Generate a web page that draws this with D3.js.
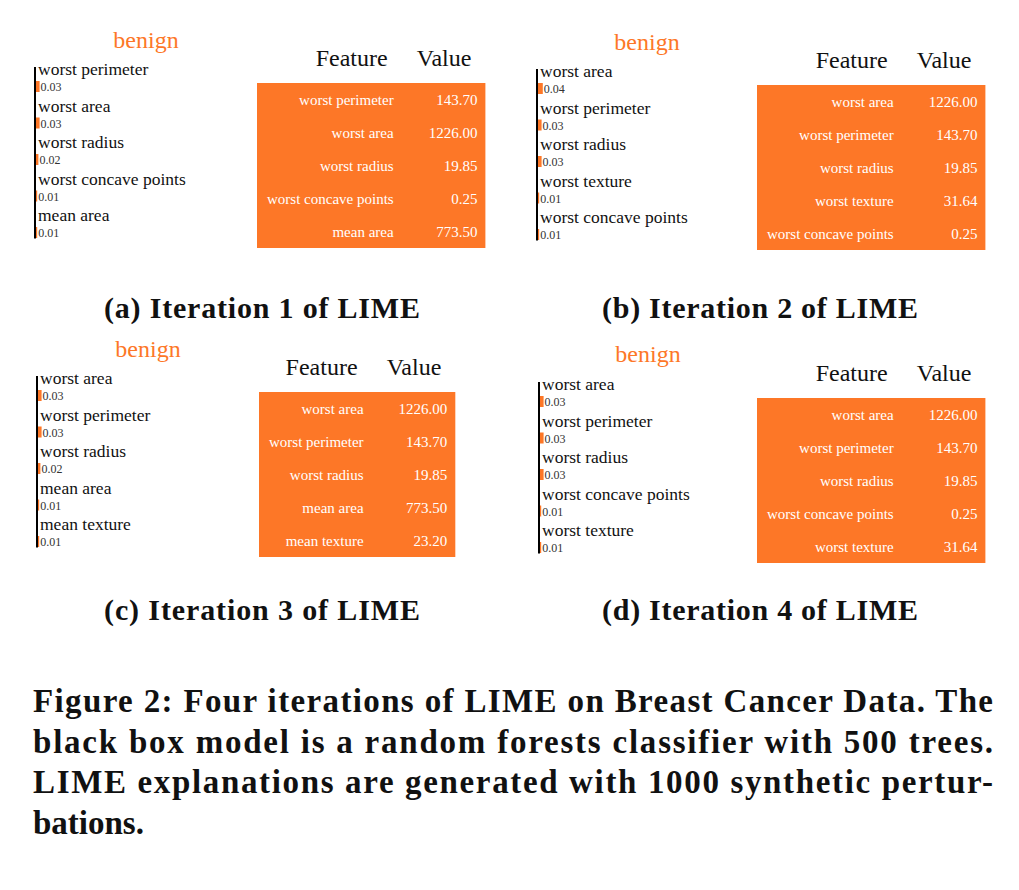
<!DOCTYPE html>
<meta charset="utf-8">
<style>
body { margin: 0; background: #fff; }
text { font-family: "Liberation Serif", "Times New Roman", serif; }
.feat { font-size: 17.5px; fill: #111; }
.wval { font-size: 12px; fill: #333; }
.head { font-size: 24px; fill: #111; text-anchor: end; }
.cell { font-size: 15px; fill: #fff; text-anchor: end; }
.cls { font-size: 24px; text-anchor: middle; }
.sub { font-size: 30px; font-weight: bold; text-anchor: middle; fill: #111; }
.cap { font-size: 33px; font-weight: bold; fill: #111; }
</style>
<svg width="1019" height="890"></svg>
<script src="https://d3js.org/d3.v7.min.js"></script>
<script>

var orange = "#fd7727";

var subCaptions = ["(a) Iteration 1 of LIME", "(b) Iteration 2 of LIME",
                   "(c) Iteration 3 of LIME", "(d) Iteration 4 of LIME"];

var features1 = ["worst perimeter", "worst area", "worst radius", "worst concave points", "mean area"];
var weights1  = [0.03, 0.03, 0.02, 0.01, 0.01];
var values1   = [143.70, 1226.00, 19.85, 0.25, 773.50];

var features2 = ["worst area", "worst perimeter", "worst radius", "worst texture", "worst concave points"];
var weights2  = [0.04, 0.03, 0.03, 0.01, 0.01];
var values2   = [1226.00, 143.70, 19.85, 31.64, 0.25];

var features3 = ["worst area", "worst perimeter", "worst radius", "mean area", "mean texture"];
var weights3  = [0.03, 0.03, 0.02, 0.01, 0.01];
var values3   = [1226.00, 143.70, 19.85, 773.50, 23.20];

var features4 = ["worst area", "worst perimeter", "worst radius", "worst concave points", "worst texture"];
var weights4  = [0.03, 0.03, 0.03, 0.01, 0.01];
var values4   = [1226.00, 143.70, 19.85, 0.25, 31.64];

var className = "benign";
var tableHeaders = ["Feature", "Value"];

var captionLines = [
  "Figure 2: Four iterations of LIME on Breast Cancer Data. The",
  "black box model is a random forests classifier with 500 trees.",
  "LIME explanations are generated with 1000 synthetic pertur-",
  "bations."
];

var svg = d3.select("svg");

// layout of each sub-figure
var panels = [
  {f: features1, w: weights1, v: values1, ax: 35,  y0: 67,  tx: 146, ty: 48,  hy: 66,  L: 257, T: 83,  cx: 262, cy: 318},
  {f: features2, w: weights2, v: values2, ax: 537, y0: 69,  tx: 647, ty: 50,  hy: 68,  L: 757, T: 85,  cx: 760, cy: 318},
  {f: features3, w: weights3, v: values3, ax: 37,  y0: 376, tx: 148, ty: 357, hy: 375, L: 259, T: 392, cx: 262, cy: 620},
  {f: features4, w: weights4, v: values4, ax: 539, y0: 382, tx: 648, ty: 362, hy: 381, L: 757, T: 398, cx: 760, cy: 620}
];

var x = d3.scaleLinear().domain([0, 0.04]).range([0, 4.8]);

function textWidth(cls, s) {
  var t = svg.append("text").attr("class", cls).text(s);
  var w = t.node().getComputedTextLength();
  t.remove();
  return w;
}

panels.forEach(function(p, i) {
  var g = svg.append("g");

  // class name
  g.append("text").attr("class", "cls").attr("x", p.tx).attr("y", p.ty)
      .attr("fill", orange).text(className);

  // weight bars
  var y = d3.scaleBand().domain(p.f).range([p.y0, p.y0 + 5 * 36.5]);

  g.append("line")
      .attr("x1", p.ax).attr("x2", p.ax)
      .attr("y1", p.y0).attr("y2", p.y0 + 5 * 36.5 - 11)
      .attr("stroke", "#000").attr("stroke-width", 2);

  var row = g.selectAll(".row")
    .data(p.f.map(function(d, k) { return {name: d, w: p.w[k]}; }))
    .enter().append("g").attr("class", "row");

  row.append("text").attr("class", "feat")
      .attr("x", p.ax + 3)
      .attr("y", function(d) { return y(d.name) + 8; })
      .text(function(d) { return d.name; });

  row.append("rect")
      .attr("x", p.ax + 1)
      .attr("y", function(d) { return y(d.name) + 14; })
      .attr("width", function(d) { return x(d.w); })
      .attr("height", 11)
      .attr("fill", orange);

  row.append("text").attr("class", "wval")
      .attr("x", function(d) { return p.ax + 2 + x(d.w); })
      .attr("y", function(d) { return y(d.name) + 24; })
      .text(function(d) { return d.w.toFixed(2); });

  // feature / value table
  var fmt = d3.format(".2f");
  var fw = d3.max(p.f, function(d) { return textWidth("cell", d); });
  var vw = d3.max(p.v, function(d) { return textWidth("cell", fmt(d)); });
  var featRight = p.L + 10 + fw;
  var valRight = featRight + 35 + vw;
  var R = valRight + 8;

  var ty = d3.scaleBand().domain(d3.range(5)).range([p.T, p.T + 165]);

  g.append("rect")
      .attr("x", p.L).attr("y", p.T)
      .attr("width", R - p.L).attr("height", 165)
      .attr("fill", orange);

  g.append("text").attr("class", "head").attr("x", featRight - 6).attr("y", p.hy).text(tableHeaders[0]);
  g.append("text").attr("class", "head").attr("x", valRight - 6).attr("y", p.hy).text(tableHeaders[1]);

  var trow = g.selectAll(".trow")
    .data(d3.range(5))
    .enter().append("g").attr("class", "trow");

  trow.append("text").attr("class", "cell")
      .attr("x", featRight)
      .attr("y", function(k) { return ty(k) + 22; })
      .text(function(k) { return p.f[k]; });

  trow.append("text").attr("class", "cell")
      .attr("x", valRight)
      .attr("y", function(k) { return ty(k) + 22; })
      .text(function(k) { return fmt(p.v[k]); });

  // sub caption
  svg.append("text").attr("class", "sub")
      .attr("x", p.cx).attr("y", p.cy)
      .attr("textLength", 316).attr("lengthAdjust", "spacing")
      .text(subCaptions[i]);
});

// figure caption
svg.selectAll(".cap")
  .data(captionLines)
  .enter().append("text")
    .attr("class", "cap")
    .attr("x", 33)
    .attr("y", function(d, i) { return 712 + i * 40.5; })
    .each(function(d, i) {
      if (i < 3) d3.select(this).attr("textLength", 960).attr("lengthAdjust", "spacing");
    })
    .text(function(d) { return d; });

</script>
